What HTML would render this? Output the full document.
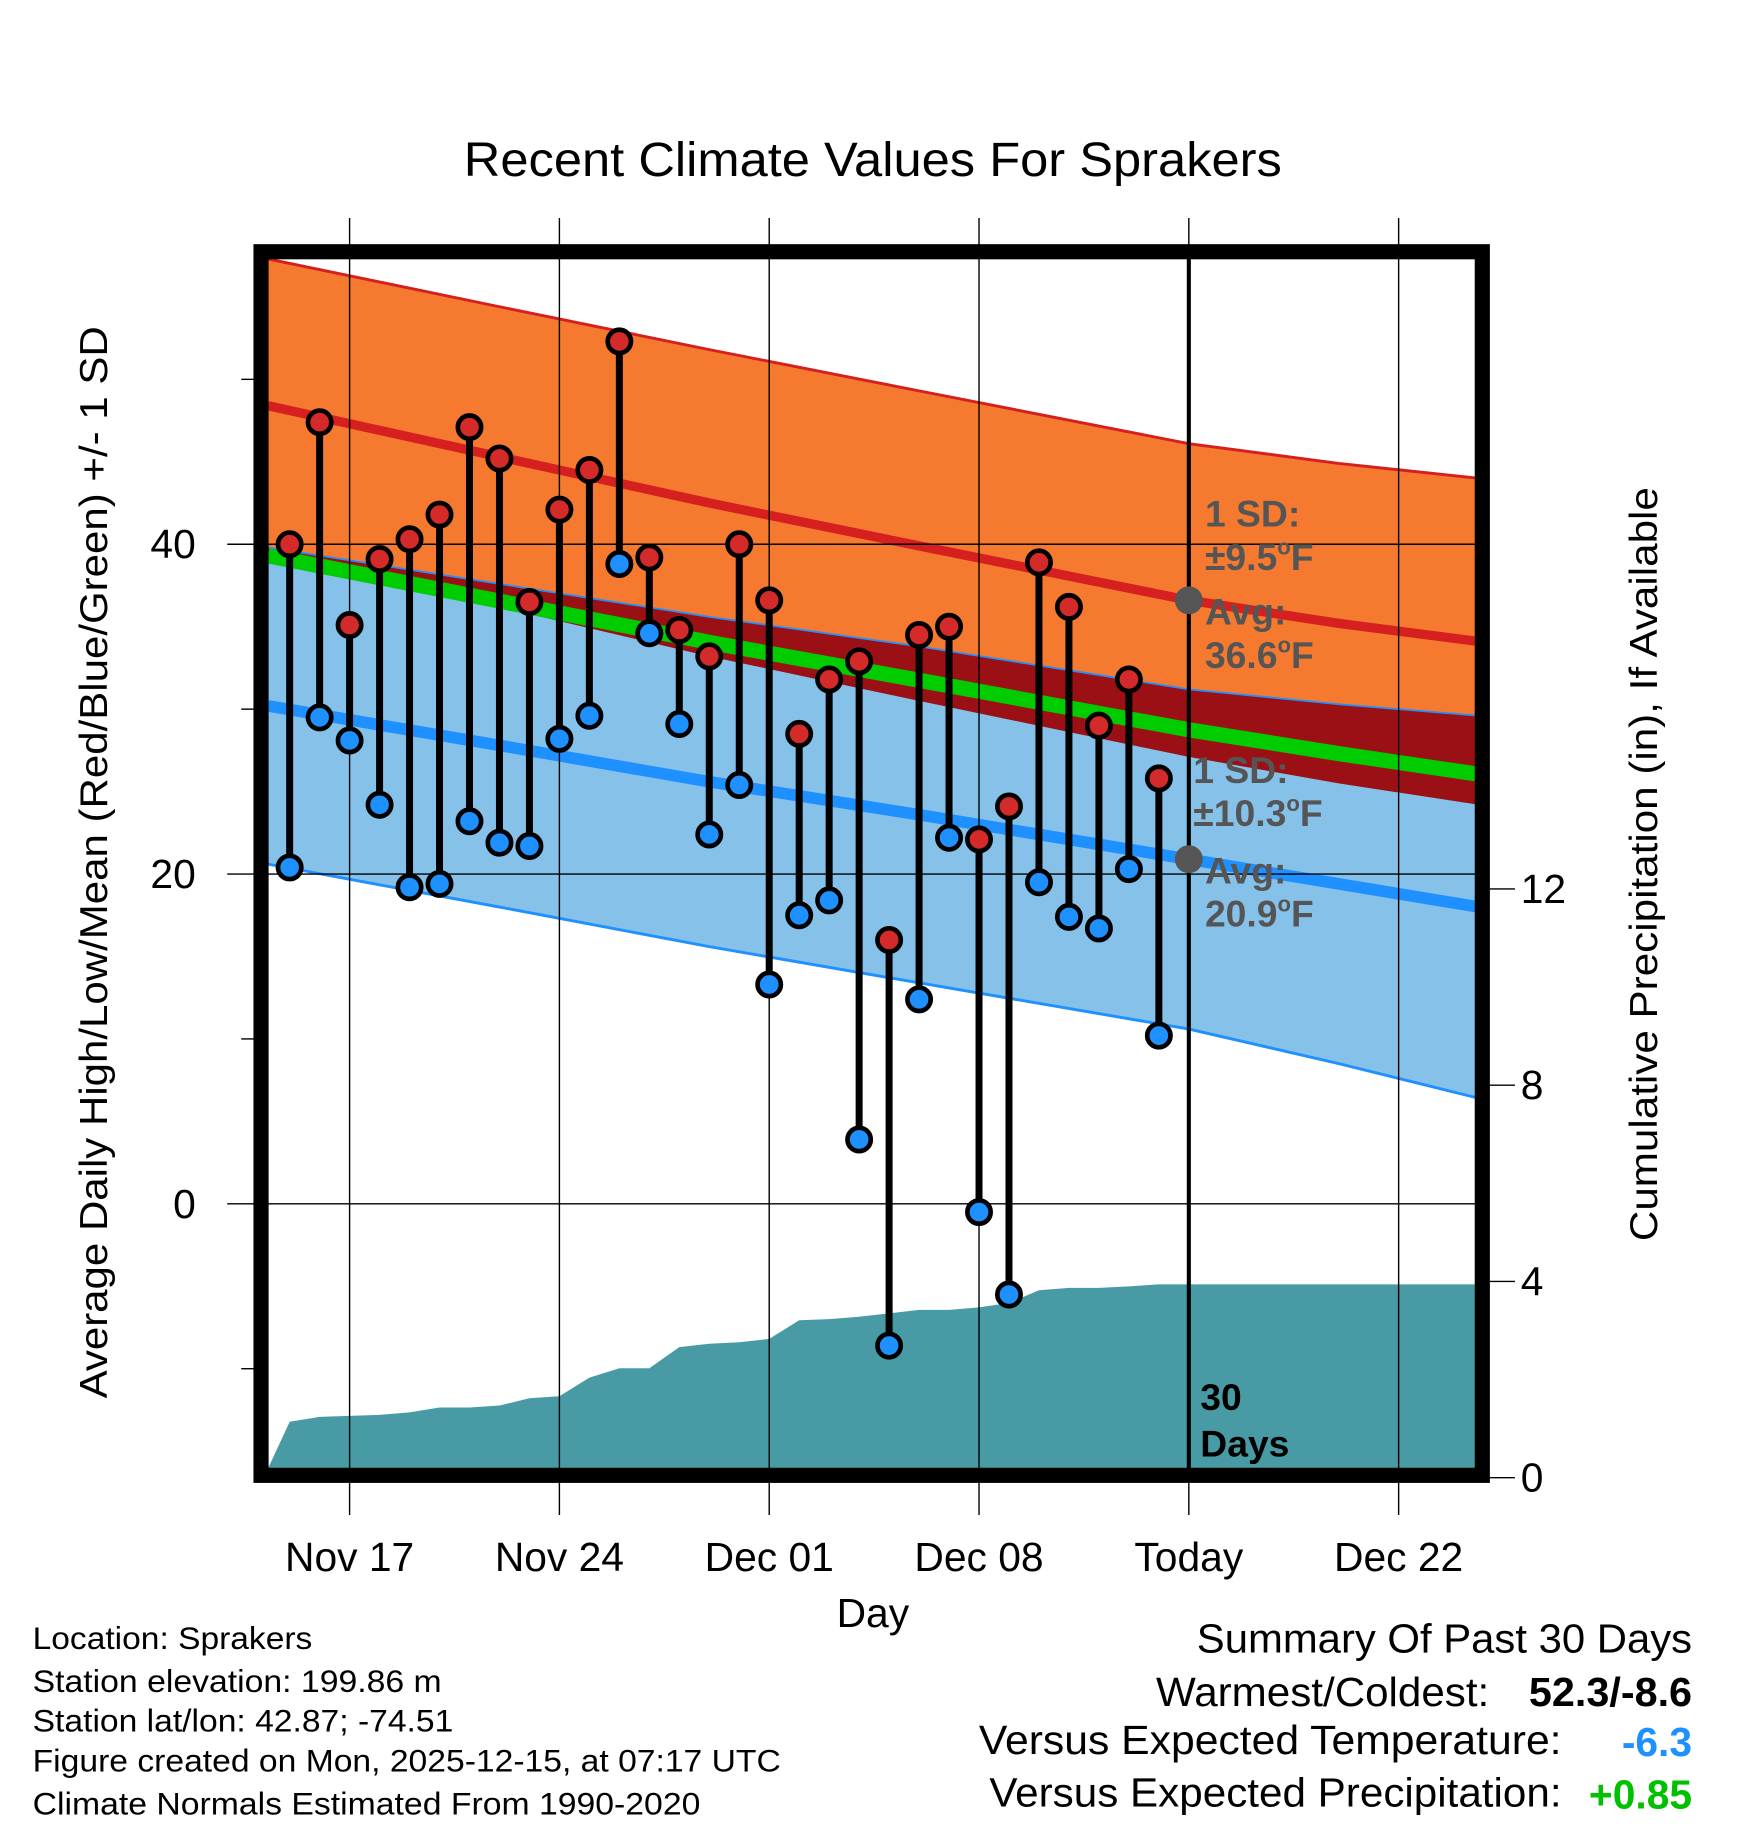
<!DOCTYPE html>
<html><head><meta charset="utf-8"><style>
html,body{margin:0;padding:0;background:#fff}
svg{display:block;font-family:"Liberation Sans",sans-serif}
</style></head><body>
<svg id="chart" width="1748" height="1828" viewBox="0 0 1500 1568.6" xmlns="http://www.w3.org/2000/svg">
<text x="398" y="151" font-size="41" textLength="702" lengthAdjust="spacingAndGlyphs">Recent Climate Values For Sprakers</text>
<g id="plot"></g>
<text transform="translate(92,1200) rotate(-90)" font-size="33" textLength="920" lengthAdjust="spacingAndGlyphs">Average Daily High/Low/Mean (Red/Blue/Green) +/- 1 SD</text>
<text transform="translate(1422,1065) rotate(-90)" font-size="33" textLength="647" lengthAdjust="spacingAndGlyphs">Cumulative Precipitation (in), If Available</text>
<text x="749" y="1396" font-size="35" text-anchor="middle">Day</text>
<g font-size="27">
<text x="28" y="1415" textLength="240" lengthAdjust="spacingAndGlyphs">Location: Sprakers</text>
<text x="28" y="1452" textLength="351" lengthAdjust="spacingAndGlyphs">Station elevation: 199.86 m</text>
<text x="28" y="1486" textLength="361" lengthAdjust="spacingAndGlyphs">Station lat/lon: 42.87; -74.51</text>
<text x="28" y="1520" textLength="642" lengthAdjust="spacingAndGlyphs">Figure created on Mon, 2025-12-15, at 07:17 UTC</text>
<text x="28" y="1557" textLength="573" lengthAdjust="spacingAndGlyphs">Climate Normals Estimated From 1990-2020</text>
</g>
<g font-size="35">
<text x="1027" y="1418" textLength="425" lengthAdjust="spacingAndGlyphs">Summary Of Past 30 Days</text>
<text x="992" y="1464" textLength="286" lengthAdjust="spacingAndGlyphs">Warmest/Coldest:</text>
<text x="1312" y="1464" font-weight="bold" textLength="140" lengthAdjust="spacingAndGlyphs">52.3/-8.6</text>
<text x="840" y="1505" textLength="500" lengthAdjust="spacingAndGlyphs">Versus Expected Temperature:</text>
<text x="1452" y="1507" font-weight="bold" fill="#1e90ff" text-anchor="end">-6.3</text>
<text x="849" y="1550" textLength="491" lengthAdjust="spacingAndGlyphs">Versus Expected Precipitation:</text>
<text x="1452" y="1552" font-weight="bold" fill="#00c000" text-anchor="end">+0.85</text>
</g>
</svg>
<script>
const highs=[40,47.4,35.1,39.1,40.3,41.8,47.1,45.2,36.5,42.1,44.5,52.3,39.2,34.8,33.2,40,36.6,28.5,31.8,32.9,16,34.5,35,22.1,24.1,38.9,36.2,29,31.8,25.8];
const lows=[20.4,29.5,28.1,24.2,19.2,19.4,23.2,21.9,21.7,28.2,29.6,38.8,34.6,29.1,22.4,25.4,13.3,17.5,18.4,3.9,-8.6,12.4,22.2,-0.5,-5.5,19.5,17.4,16.7,20.3,10.2];
const precip=[1.14,1.24,1.26,1.28,1.33,1.43,1.43,1.47,1.62,1.66,2.04,2.23,2.23,2.66,2.73,2.76,2.83,3.21,3.23,3.28,3.35,3.42,3.42,3.47,3.56,3.82,3.87,3.87,3.90,3.94];
const normDays=[-2.72,5,12,19,28,33,37.67];
const avgHigh=[48.4,45.3,42.5,39.9,36.6,35.2,34.1];
const sdHigh=[8.9,9.1,9.3,9.4,9.5,9.7,9.9];
const avgLow=[30.2,27.8,25.6,23.6,20.9,19.4,18.0];
const sdLow=[9.6,9.8,10.0,10.2,10.3,10.9,11.6];
const xTickDays=[0,7,14,21,28,35];
const xTickLabels=["Nov 17","Nov 24","Dec 01","Dec 08","Today","Dec 22"];
const yTicks=[40,20,0];
const yMinor=[50,30,10,-10];
const y2Ticks=[0,4,8,12];
const firstDay=-2;

const NS="http://www.w3.org/2000/svg";
const g=document.getElementById('plot');
const X=d=>300+d*25.72;
const Y=t=>1033-t*14.15;
const Y2=p=>1268-p*42.1;
const L=230,R=1268,T=222,B=1260;
function mk(tag,attrs,parent){const e=document.createElementNS(NS,tag);for(const k in attrs)e.setAttribute(k,attrs[k]);(parent||g).appendChild(e);return e;}
function pts(xs,ys){return xs.map((x,i)=>X(x).toFixed(1)+','+ys[i].toFixed(1)).join(' ');}
const hiTop=avgHigh.map((v,i)=>Y(v+sdHigh[i])),hiBot=avgHigh.map((v,i)=>Y(v-sdHigh[i]));
const loTop=avgLow.map((v,i)=>Y(v+sdLow[i])),loBot=avgLow.map((v,i)=>Y(v-sdLow[i]));
const rev=a=>a.slice().reverse();
let e;
e=mk('polygon',{points:pts(normDays,hiTop)+' '+pts(rev(normDays),rev(hiBot)),fill:'#f57a30'});

e=mk('polygon',{points:pts(normDays,loTop)+' '+pts(rev(normDays),rev(loBot)),fill:'#85c1e9'});

const ovBot=loTop.map((v,i)=>Math.max(v,hiBot[i]));
e=mk('polygon',{points:pts(normDays,loTop)+' '+pts(rev(normDays),rev(ovBot)),fill:'#9b1015'});

e=mk('polyline',{points:pts(normDays,hiTop),fill:'none',stroke:'#d62020','stroke-width':2.5});

e=mk('polyline',{points:pts(normDays,loTop),fill:'none',stroke:'#1e90ff','stroke-width':1.5});

e=mk('polyline',{points:pts(normDays,loBot),fill:'none',stroke:'#1e90ff','stroke-width':2.5});

e=mk('polyline',{points:pts(normDays,avgHigh.map((v,i)=>Y((v+avgLow[i])/2))),fill:'none',stroke:'#00cc00','stroke-width':13});

e=mk('polyline',{points:pts(normDays,avgHigh.map(Y)),fill:'none',stroke:'#d62020','stroke-width':8});

e=mk('polyline',{points:pts(normDays,avgLow.map(Y)),fill:'none',stroke:'#1e90ff','stroke-width':10});

let pp=[L+','+B];
precip.forEach((p,i)=>pp.push(X(firstDay+i).toFixed(1)+','+Y2(p).toFixed(1)));
pp.push(R+','+Y2(precip[precip.length-1]).toFixed(1));pp.push(R+','+B);
e=mk('polygon',{points:pp.join(' '),fill:'#489ba4'});

xTickDays.forEach((d,i)=>{
 e=mk('line',{x1:X(d),x2:X(d),y1:187,y2:1300,stroke:'#000','stroke-width':1.2});
 
 e=mk('text',{x:X(d),y:1348,'font-size':35,'text-anchor':'middle'});e.textContent=xTickLabels[i];
 
});
yTicks.forEach(t=>{
 e=mk('line',{x1:195,x2:R,y1:Y(t),y2:Y(t),stroke:'#000','stroke-width':1.2});
 
 e=mk('text',{x:168,y:Y(t)+12,'font-size':35,'text-anchor':'end'});e.textContent=t;
 
});
yMinor.forEach(t=>{
 e=mk('line',{x1:207,x2:218,y1:Y(t),y2:Y(t),stroke:'#000','stroke-width':1.2});
 
});
y2Ticks.forEach(p=>{
 e=mk('line',{x1:1278,x2:1300,y1:Y2(p),y2:Y2(p),stroke:'#000','stroke-width':1.2});
 
 e=mk('text',{x:1305,y:Y2(p)+12,'font-size':35});e.textContent=p;
 
});
e=mk('line',{x1:X(28),x2:X(28),y1:T,y2:B,stroke:'#000','stroke-width':3.5});

highs.forEach((h,i)=>{
 const x=X(firstDay+i);
 e=mk('line',{x1:x,x2:x,y1:Y(h),y2:Y(lows[i]),stroke:'#000','stroke-width':6});
 
});
highs.forEach((h,i)=>{
 const x=X(firstDay+i);
 e=mk('circle',{cx:x,cy:Y(h),r:10,fill:'#d42a2a',stroke:'#000','stroke-width':4});
 
 e=mk('circle',{cx:x,cy:Y(lows[i]),r:10,fill:'#1e90ff',stroke:'#000','stroke-width':4});
 
});
const ti=4;
e=mk('circle',{cx:X(28),cy:Y(avgHigh[ti]),r:12,fill:'#555'});

e=mk('circle',{cx:X(28),cy:Y(avgLow[ti]),r:12,fill:'#555'});

function ann(txt,x,y,name,col){const t=mk('text',{x:x,y:y,'font-size':32,'font-weight':'bold',fill:col||'#555'});t.innerHTML=txt;}
const deg='<tspan font-size="19" dy="-13">o</tspan><tspan dy="13">F</tspan>';
ann('1 SD:',1034,452,'high-sd-label');
ann('±'+sdHigh[ti].toFixed(1)+deg,1034,489,'high-sd-value');
ann('Avg:',1034,536,'high-avg-label');
ann(avgHigh[ti].toFixed(1)+deg,1034,573,'high-avg-value');
ann('1 SD:',1024,672,'low-sd-label');
ann('±'+sdLow[ti].toFixed(1)+deg,1024,709,'low-sd-value');
ann('Avg:',1034,758,'low-avg-label');
ann(avgLow[ti].toFixed(1)+deg,1034,795,'low-avg-value');
ann('30',1030,1210,'days-count','#000');
ann('Days',1030,1250,'days-label','#000');
e=mk('rect',{x:224,y:216,width:1048,height:1050,fill:'none',stroke:'#000','stroke-width':13});

</script>
</body></html>
